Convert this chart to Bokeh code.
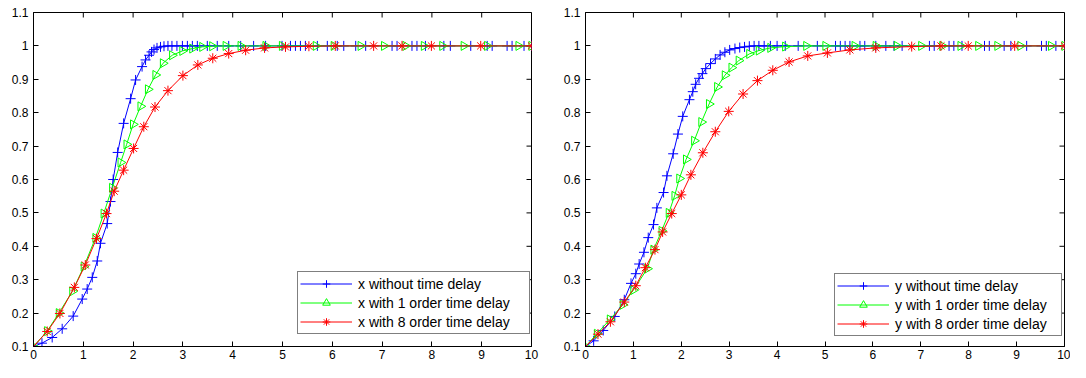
import numpy as np
from bokeh.plotting import figure
from bokeh.layouts import row
from bokeh.models import (Range1d, FixedTicker, Legend, LegendItem,
                          CustomJSTickFormatter)
from bokeh.embed import file_html
from bokeh.resources import INLINE

# ---------------- data ----------------
x_ticks = [0, 1, 2, 3, 4, 5, 6, 7, 8, 9, 10]
y_ticks = [0.1, 0.2, 0.3, 0.4, 0.5, 0.6, 0.7, 0.8, 0.9, 1.0, 1.1]

# left panel: x
xa_t = [0, 0.17, 0.375, 0.576, 0.797, 0.978, 1.078, 1.18, 1.28, 1.345, 1.48, 1.546,
        1.60, 1.69, 1.81, 1.95, 2.05, 2.18, 2.25, 2.32, 2.37, 2.42, 2.48, 2.55, 2.62,
        2.70, 2.78, 2.88, 2.99, 3.09, 3.19, 3.29, 3.49, 3.69, 3.92, 4.16, 4.42, 4.66,
        4.99, 5.16, 5.26, 5.36, 5.46, 5.70, 5.90, 6.10, 6.23, 6.47, 6.67, 7.2, 7.3,
        7.6, 7.7, 7.87, 8.24, 8.37, 8.78, 9.11, 9.21, 9.51, 9.61, 9.85, 10]
xa_v = [0.1, 0.11, 0.127, 0.153, 0.191, 0.242, 0.272, 0.307, 0.356, 0.409, 0.468, 0.534,
        0.60, 0.681, 0.768, 0.842, 0.898, 0.938, 0.958, 0.972, 0.982, 0.989, 0.994, 0.997,
        0.999, 1.0, 1.0, 1.0, 1.0, 1.0, 1.0, 1.0, 1.0, 1.0, 1.0, 1.0, 1.0, 1.0,
        1.0, 1.0, 1.0, 1.0, 1.0, 1.0, 1.0, 1.0, 1.0, 1.0, 1.0, 1.0, 1.0,
        1.0, 1.0, 1.0, 1.0, 1.0, 1.0, 1.0, 1.0, 1.0, 1.0, 1.0, 1.0]

xb_t = [0, 0.275, 0.51, 0.78, 1.01, 1.245, 1.41, 1.58, 1.75, 1.87, 2.0, 2.15, 2.30,
        2.45, 2.60, 2.785, 2.99, 3.19, 3.39, 3.59, 3.86, 4.16, 4.66, 4.99, 5.67, 6.03,
        6.57, 7.04, 7.47, 7.84, 8.21, 8.64, 9.11, 9.74, 10]
xb_v = [0.1, 0.146, 0.2, 0.265, 0.339, 0.425, 0.498, 0.575, 0.651, 0.705, 0.765, 0.819,
        0.870, 0.913, 0.948, 0.972, 0.985, 0.992, 0.997, 0.999, 1.0, 1.0, 1.0, 1.0, 1.0,
        1.0, 1.0, 1.0, 1.0, 1.0, 1.0, 1.0, 1.0, 1.0, 1.0]

xc_t = [0, 0.275, 0.53, 0.82, 1.04, 1.265, 1.466, 1.62, 1.81, 2.01, 2.215, 2.44, 2.70,
        3.0, 3.30, 3.60, 3.92, 4.26, 4.64, 5.06, 5.53, 6.06, 6.83, 7.40, 7.99, 8.98, 10]
xc_v = [0.1, 0.145, 0.199, 0.277, 0.344, 0.423, 0.498, 0.565, 0.628, 0.693, 0.758, 0.817,
        0.866, 0.911, 0.943, 0.963, 0.977, 0.987, 0.994, 0.997, 0.999, 1.0, 1.0, 1.0,
        1.0, 1.0, 1.0]

# right panel: y
ya_t = [0, 0.17, 0.37, 0.61, 0.81, 0.95, 1.05, 1.12, 1.22, 1.31, 1.42, 1.49, 1.63, 1.70,
        1.83, 1.93, 2.03, 2.17, 2.24, 2.30, 2.37, 2.44, 2.51, 2.61, 2.71, 2.81, 2.91,
        3.01, 3.12, 3.22, 3.32, 3.42, 3.52, 3.62, 3.73, 3.86, 4.0, 4.17, 4.44, 4.84,
        5.22, 5.32, 5.42, 5.52, 5.73, 5.83, 6.06, 6.27, 6.44, 6.61, 7.18, 7.28, 7.59,
        7.69, 7.86, 8.33, 8.43, 8.74, 8.88, 9.21, 9.52, 9.62, 9.82, 10]
ya_v = [0.1, 0.117, 0.148, 0.19, 0.24, 0.289, 0.318, 0.347, 0.382, 0.426, 0.465, 0.515,
        0.561, 0.611, 0.677, 0.736, 0.789, 0.839, 0.863, 0.885, 0.903, 0.917, 0.932,
        0.947, 0.961, 0.973, 0.981, 0.988, 0.992, 0.995, 0.997, 0.999, 1.0, 1.0, 1.0,
        1.0, 1.0, 1.0, 1.0, 1.0, 1.0, 1.0, 1.0, 1.0, 1.0, 1.0, 1.0, 1.0, 1.0, 1.0,
        1.0, 1.0, 1.0, 1.0, 1.0, 1.0, 1.0, 1.0, 1.0, 1.0, 1.0, 1.0, 1.0, 1.0]

yb_t = [0, 0.24, 0.51, 0.78, 1.0, 1.29, 1.42, 1.59, 1.74, 1.86, 1.96, 2.10, 2.27, 2.42,
        2.58, 2.75, 2.91, 3.05, 3.2, 3.42, 3.62, 3.86, 4.17, 4.61, 5.01, 5.62, 6.06,
        6.50, 7.01, 7.45, 7.83, 8.2, 8.6, 9.08, 9.72, 10]
yb_v = [0.1, 0.138, 0.181, 0.225, 0.269, 0.333, 0.39, 0.446, 0.5, 0.551, 0.603, 0.66,
        0.716, 0.772, 0.826, 0.877, 0.912, 0.935, 0.956, 0.976, 0.986, 0.994, 0.998,
        1.0, 1.0, 1.0, 1.0, 1.0, 1.0, 1.0, 1.0, 1.0, 1.0, 1.0, 1.0, 1.0]

yc_t = [0, 0.26, 0.52, 0.81, 1.05, 1.25, 1.45, 1.61, 1.80, 2.0, 2.20, 2.45, 2.71, 2.99,
        3.29, 3.59, 3.91, 4.25, 4.64, 5.05, 5.52, 6.06, 6.81, 7.42, 7.99, 8.96, 10]
yc_v = [0.1, 0.137, 0.174, 0.233, 0.282, 0.336, 0.39, 0.443, 0.498, 0.554, 0.614, 0.68,
        0.743, 0.804, 0.856, 0.896, 0.927, 0.952, 0.970, 0.979, 0.988, 0.994, 0.998,
        1.0, 1.0, 1.0, 1.0]

left_labels = ["x without time delay", "x with 1 order time delay", "x with 8 order time delay"]
right_labels = ["y without time delay", "y with 1 order time delay", "y with 8 order time delay"]

FONT = "Liberation Sans"
X0, X1 = 0, 10
Y0, Y1 = 0.1, 1.1
H = 362


def style_axis(ax, ticks):
    ax.ticker = FixedTicker(ticks=ticks)
    ax.axis_line_color = "black"
    ax.axis_line_width = 1
    ax.major_tick_line_color = "black"
    ax.major_tick_in = 5
    ax.major_tick_out = 0
    ax.minor_tick_line_color = None
    ax.major_label_text_font = FONT
    ax.major_label_text_color = "black"
    ax.major_label_text_font_size = "12px"
    ax.major_label_standoff = 3


def make_panel(series, labels, width, bl, br, bt, bb, legend_xy, label_width):
    p = figure(width=width, height=H, x_range=Range1d(X0, X1), y_range=Range1d(Y0, Y1),
               output_backend="svg", toolbar_location=None,
               min_border_left=bl, min_border_right=br,
               min_border_top=bt, min_border_bottom=bb)
    p.xgrid.visible = False
    p.ygrid.visible = False
    p.outline_line_color = "black"
    p.outline_line_width = 1
    p.background_fill_color = "white"
    p.border_fill_color = "white"

    style_axis(p.xaxis[0], x_ticks)
    style_axis(p.yaxis[0], y_ticks)
    p.yaxis[0].major_label_standoff = 5
    p.yaxis[0].formatter = CustomJSTickFormatter(code="return Number(tick.toFixed(2)).toString();")

    # inward ticks on the top and right edges of the box (MATLAB "box on")
    p.ray(x=x_ticks, y=[Y1] * len(x_ticks), length=5, length_units="screen",
          angle=-np.pi / 2, line_color="black", line_width=1)
    p.ray(x=[X1] * len(y_ticks), y=y_ticks, length=5, length_units="screen",
          angle=np.pi, line_color="black", line_width=1)

    colors = ["#0000ff", "#00ff00", "#ff0000"]
    markers = [("cross", 10, 0.0), ("triangle", 9, -np.pi / 2), ("asterisk", 10, 0.0)]
    items = []
    for (t, v), c, (m, s, ang), lab in zip(series, colors, markers, labels):
        lr = p.line(t, v, line_color=c, line_width=1)
        sr = p.scatter(t, v, marker=m, size=s, angle=ang, line_color=c, fill_color=None,
                       line_width=1)
        items.append(LegendItem(label=lab, renderers=[lr, sr]))

    leg = Legend(items=items, location=legend_xy)
    leg.label_text_font = FONT
    leg.label_text_font_size = "14px"
    leg.label_text_color = "black"
    leg.border_line_color = "black"
    leg.border_line_width = 1
    leg.background_fill_color = "white"
    leg.background_fill_alpha = 1
    leg.padding = 2
    leg.spacing = 0
    leg.margin = 0
    leg.glyph_width = 52
    leg.glyph_height = 19
    leg.label_height = 19
    leg.label_standoff = 6
    leg.label_width = label_width
    p.add_layout(leg, "center")
    return p


p1 = make_panel([(xa_t, xa_v), (xb_t, xb_v), (xc_t, xc_v)], left_labels,
                width=545, bl=33, br=14, bt=12, bb=16, legend_xy=(264, 12), label_width=169)
p2 = make_panel([(ya_t, ya_v), (yb_t, yb_v), (yc_t, yc_v)], right_labels,
                width=525, bl=40, br=6, bt=12, bb=16, legend_xy=(249, 10), label_width=164)

layout = row(p1, p2)
open("out.html", "w").write(file_html(layout, INLINE))
